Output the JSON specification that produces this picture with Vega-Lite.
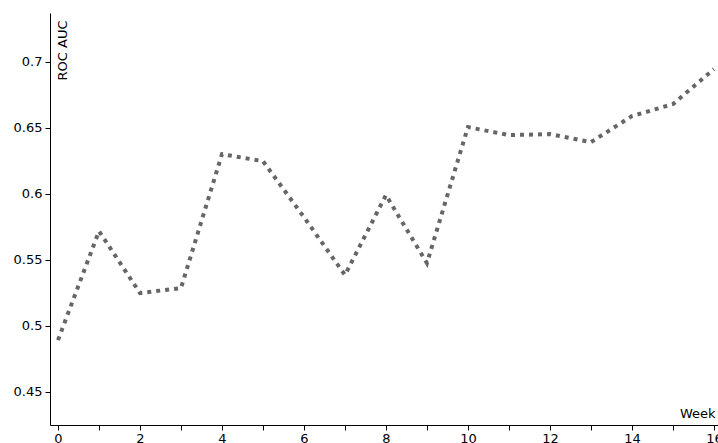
{
  "$schema": "https://vega.github.io/schema/vega-lite/v6.json",
  "width": 668,
  "height": 412,
  "autosize": {"type": "none"},
  "padding": {"left": 50, "top": 13, "right": 0, "bottom": 18},
  "background": "white",
  "config": {
    "view": {"stroke": null},
    "axis": {
      "grid": false,
      "domainColor": "black",
      "tickColor": "black",
      "labelColor": "black",
      "titleColor": "black",
      "labelFont": "DejaVu Sans",
      "titleFont": "DejaVu Sans",
      "labelFontSize": 13,
      "titleFontSize": 13,
      "titleFontWeight": "normal",
      "tickSize": 5,
      "domainWidth": 1,
      "tickWidth": 1
    }
  },
  "data": {
    "values": [
      {"week": 0, "auc": 0.4893},
      {"week": 1, "auc": 0.5718},
      {"week": 2, "auc": 0.5249},
      {"week": 3, "auc": 0.5287},
      {"week": 4, "auc": 0.6301},
      {"week": 5, "auc": 0.6248},
      {"week": 6, "auc": 0.5824},
      {"week": 7, "auc": 0.5386},
      {"week": 8, "auc": 0.5991},
      {"week": 9, "auc": 0.5476},
      {"week": 10, "auc": 0.6506},
      {"week": 11, "auc": 0.6445},
      {"week": 12, "auc": 0.6453},
      {"week": 13, "auc": 0.6392},
      {"week": 14, "auc": 0.6589},
      {"week": 15, "auc": 0.668},
      {"week": 16, "auc": 0.6945}
    ]
  },
  "mark": {
    "type": "line",
    "color": "#666666",
    "strokeWidth": 4,
    "strokeDash": [4, 5],
    "strokeCap": "butt",
    "clip": false
  },
  "encoding": {
    "x": {
      "field": "week",
      "type": "quantitative",
      "scale": {"domain": [-0.195, 16.1], "nice": false, "zero": false},
      "axis": {
        "title": "Week",
        "values": [0,1,2,3,4,5,6,7,8,9,10,11,12,13,14,15,16],
        "labelExpr": "datum.value % 2 === 0 ? datum.label : ''",
        "labelPadding": 2,
        "labelFlush": false,
        "labelOverlap": false,
        "titleAnchor": "start",
        "titleAlign": "right",
        "titleBaseline": "bottom",
        "titleX": 665,
        "titleY": -5
      }
    },
    "y": {
      "field": "auc",
      "type": "quantitative",
      "scale": {"domain": [0.425, 0.737], "nice": false, "zero": false},
      "axis": {
        "title": "ROC AUC",
        "values": [0.45, 0.5, 0.55, 0.6, 0.65, 0.7],
        "format": "~g",
        "labelPadding": 3,
        "labelFlush": false,
        "titleAngle": -90,
        "titleAnchor": "start",
        "titleAlign": "right",
        "titleBaseline": "top",
        "titleX": 6,
        "titleY": 7
      }
    }
  }
}
